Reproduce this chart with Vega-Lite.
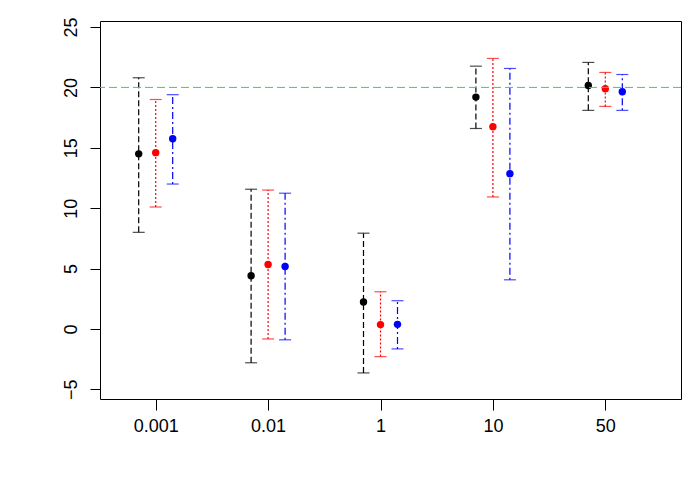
{
  "$schema": "https://vega.github.io/schema/vega-lite/v6.json",
  "width": 581,
  "height": 378,
  "autosize": "none",
  "padding": {"left": 100, "top": 21, "right": 19, "bottom": 101},
  "background": "white",
  "config": {
    "view": {"stroke": "black", "strokeWidth": 1},
    "font": "Liberation Sans",
    "axis": {"labelFont": "Liberation Sans", "labelColor": "black", "tickColor": "black", "grid": false, "domain": false, "title": null}
  },
  "data": {
    "values": [
      {"conc": "0.001", "series": "s1", "mean": 14.5, "lo": 8.0, "hi": 20.8},
      {"conc": "0.001", "series": "s2", "mean": 14.6, "lo": 10.1, "hi": 19.0},
      {"conc": "0.001", "series": "s3", "mean": 15.75, "lo": 12.0, "hi": 19.4},
      {"conc": "0.01", "series": "s1", "mean": 4.4, "lo": -2.8, "hi": 11.57},
      {"conc": "0.01", "series": "s2", "mean": 5.34, "lo": -0.83, "hi": 11.5},
      {"conc": "0.01", "series": "s3", "mean": 5.17, "lo": -0.9, "hi": 11.24},
      {"conc": "1", "series": "s1", "mean": 2.23, "lo": -3.64, "hi": 7.93},
      {"conc": "1", "series": "s2", "mean": 0.36, "lo": -2.29, "hi": 3.08},
      {"conc": "1", "series": "s3", "mean": 0.38, "lo": -1.65, "hi": 2.34},
      {"conc": "10", "series": "s1", "mean": 19.2, "lo": 16.6, "hi": 21.76},
      {"conc": "10", "series": "s2", "mean": 16.74, "lo": 10.93, "hi": 22.4},
      {"conc": "10", "series": "s3", "mean": 12.86, "lo": 4.07, "hi": 21.57},
      {"conc": "50", "series": "s1", "mean": 20.16, "lo": 18.1, "hi": 22.07},
      {"conc": "50", "series": "s2", "mean": 19.9, "lo": 18.43, "hi": 21.24},
      {"conc": "50", "series": "s3", "mean": 19.64, "lo": 18.1, "hi": 21.07}
    ]
  },
  "encoding": {
    "x": {
      "field": "conc", "type": "ordinal",
      "sort": ["0.001", "0.01", "1", "10", "50"],
      "scale": {"type": "band", "paddingInner": 0, "paddingOuter": 0.0845, "align": 0},
      "axis": {"labelAngle": 0, "labelFontSize": 18, "tickSize": 11, "labelPadding": 7}
    },
    "xOffset": {
      "field": "series", "type": "nominal",
      "sort": ["s1", "s2", "s3"],
      "scale": {"paddingInner": 0, "paddingOuter": 0, "range": [30.2, 81.2]}
    },
    "color": {
      "field": "series", "type": "nominal",
      "scale": {"domain": ["s1", "s2", "s3"], "range": ["#000000", "#FF0000", "#0000FF"]},
      "legend": null
    }
  },
  "layer": [
    {
      "mark": {"type": "rule", "strokeWidth": 1.2},
      "encoding": {
        "y": {
          "field": "lo", "type": "quantitative",
          "scale": {"domain": [-5.8, 25.5], "nice": false, "zero": false},
          "axis": {"values": [-5, 0, 5, 10, 15, 20, 25], "labelAngle": 270, "labelFontSize": 18, "tickSize": 10, "labelPadding": 10}
        },
        "y2": {"field": "hi"},
        "strokeDash": {
          "field": "series", "type": "nominal",
          "scale": {"domain": ["s1", "s2", "s3"], "range": [[6, 3], [2, 2], [2, 3, 7, 3]]},
          "legend": null
        }
      }
    },
    {
      "mark": {"type": "tick", "orient": "horizontal", "size": 12, "thickness": 1.2},
      "encoding": {"y": {"field": "hi", "type": "quantitative"}}
    },
    {
      "mark": {"type": "tick", "orient": "horizontal", "size": 12, "thickness": 1.2},
      "encoding": {"y": {"field": "lo", "type": "quantitative"}}
    },
    {
      "mark": {"type": "point", "shape": "circle", "filled": true, "opacity": 1, "size": 55},
      "encoding": {"y": {"field": "mean", "type": "quantitative"}}
    },
    {
      "data": {"values": [{"ref": 20}]},
      "mark": {"type": "rule", "color": "#33dd33", "strokeWidth": 1, "strokeDash": [8, 4]},
      "encoding": {"y": {"field": "ref", "type": "quantitative"}, "x": null, "xOffset": null, "color": null}
    }
  ]
}
